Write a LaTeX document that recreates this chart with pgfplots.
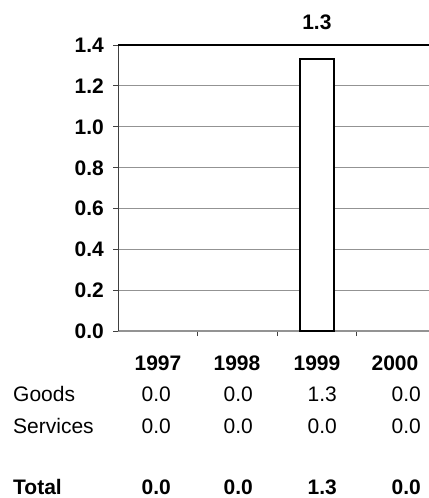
\documentclass[border=0pt]{standalone}
\usepackage{pgfplots}
\pgfplotsset{compat=1.18}
\usepackage{fontspec}
\setmainfont{Liberation Sans}
\begin{document}
\fontsize{21bp}{25bp}\selectfont
\begin{tikzpicture}[every node/.style={text height=0.72em, text depth=0pt}]
\useasboundingbox (0,0) rectangle (429bp,-498bp);
\begin{axis}[
  at={(118bp,-331bp)}, anchor=south west,
  scale only axis, width=311bp, height=286bp,
  xmin=-0.5, xmax=3.41, ymin=0, ymax=1.4,
  clip=false,
  axis x line*=bottom, axis y line*=left,
  axis line style={-},
  x axis line style={draw=gray!85, line width=1.2pt},
  y axis line style={draw=black!75, line width=0.9pt},
  xtick={0.5,1.5,2.5}, xticklabels={},
  ytick={0,0.2,0.4,0.6,0.8,1.0,1.2},
  extra y ticks={1.4},
  extra y tick style={grid style={draw=black, line width=1.2pt}},
  ymajorgrids, grid style={draw=gray!85, line width=1.2pt},
  tick align=outside, major tick length=5bp,
  tick style={draw=black!75, line width=0.9pt},
  yticklabel style={font=\fontsize{21bp}{25bp}\selectfont\bfseries, xshift=-2bp,
    /pgf/number format/.cd, fixed, fixed zerofill, precision=1, assume math mode=true},
  restrict y to domain=0.001:10,
]
\addplot[ybar, bar width=34bp, draw=black, fill=white, line width=2pt]
  coordinates {(0,0) (1,0) (2,1.33) (3,0)};
\node[font=\bfseries, anchor=center] at (axis cs:2,1.512) {1.3};
\end{axis}
% table below the chart
\foreach \x/\t in {158/1997,237/1998,317/1999,395/2000}
  \node[font=\bfseries] at (\x bp,-363bp) {\t};
\node[anchor=west, inner xsep=0pt] at (13bp,-394bp) {Goods};
\node[anchor=west, inner xsep=0pt] at (13bp,-426bp) {Services};
\node[anchor=west, inner xsep=0pt, font=\bfseries] at (13bp,-487bp) {Total};
\foreach \x/\v in {171/0.0,253/0.0,337/1.3,421/0.0}
  \node[anchor=east, inner xsep=0pt] at (\x bp,-394bp) {\v};
\foreach \x/\v in {171/0.0,253/0.0,337/0.0,421/0.0}
  \node[anchor=east, inner xsep=0pt] at (\x bp,-426bp) {\v};
\foreach \x/\v in {171/0.0,253/0.0,337/1.3,421/0.0}
  \node[anchor=east, inner xsep=0pt, font=\bfseries] at (\x bp,-487bp) {\v};
\end{tikzpicture}
\end{document}
